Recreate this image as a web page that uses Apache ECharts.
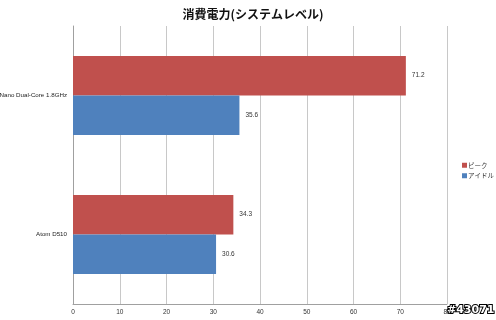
<!DOCTYPE html>
<html><head><meta charset="utf-8">
<script src="https://cdn.jsdelivr.net/npm/echarts@6/dist/echarts.min.js"></script>
<style>html,body{margin:0;padding:0;background:#fff}#c{width:496px;height:320px}</style>
</head><body><div id="c"></div>
<script>
const categories = ['Atom D510', 'Nano Dual-Core 1.8GHz'];
const peak = [34.3, 71.2];
const idle = [30.6, 35.6];
const xTicks = [0, 10, 20, 30, 40, 50, 60, 70, 80];

const chart = echarts.init(document.getElementById('c'), null, {renderer: 'canvas'});
const lbl = {show: true, position: 'right', distance: 6, fontSize: 6.5, color: '#333', fontFamily: 'Liberation Sans'};
chart.setOption({
  animation: false,
  title: {text: '消費電力(システムレベル)', left: 248, textAlign: 'center', top: 3,
    textStyle: {fontSize: 12, fontWeight: 'bold', color: '#111', fontFamily: 'Noto Sans CJK JP'}},
  legend: {data: ['ピーク', 'アイドル'], orient: 'vertical', left: 457, top: 157,
    itemWidth: 5, itemHeight: 5, itemGap: 4, icon: 'rect',
    textStyle: {fontSize: 6.5, color: '#333', padding: [0,0,0,-4], fontFamily: 'Noto Sans CJK JP'}},
  grid: {left: 73, right: 49, top: 26, bottom: 16, containLabel: false, outerBoundsMode: 'none'},
  xAxis: {type: 'value', min: xTicks[0], max: xTicks[xTicks.length-1], interval: 10,
    axisLine: {show: true, lineStyle: {color: '#a0a0a0'}},
    axisTick: {show: false},
    axisLabel: {fontSize: 6.5, color: '#333', margin: 5, fontFamily: 'Liberation Sans'},
    splitLine: {show: true, lineStyle: {color: '#c8c8c8'}}},
  yAxis: {type: 'category', data: categories,
    axisLine: {show: true, lineStyle: {color: '#a0a0a0'}},
    axisTick: {show: false},
    axisLabel: {fontSize: 6.2, color: '#222', margin: 6, fontFamily: 'Liberation Sans'}},
  series: [
    {name: 'ピーク', type: 'bar', data: peak, barCategoryGap: '43%', barGap: '0%',
     itemStyle: {color: '#C0504D'}, label: lbl},
    {name: 'アイドル', type: 'bar', data: idle, barCategoryGap: '43%', barGap: '0%',
     itemStyle: {color: '#4F81BD'}, label: lbl}
  ],
  graphic: [{type: 'text', left: 446, top: 304,
    style: {text: '#43071', fontSize: 11, fontWeight: 'bold', fill: '#fff', stroke: '#000', lineWidth: 2,
      fontFamily: 'DejaVu Sans'}}]
});
</script></body></html>
